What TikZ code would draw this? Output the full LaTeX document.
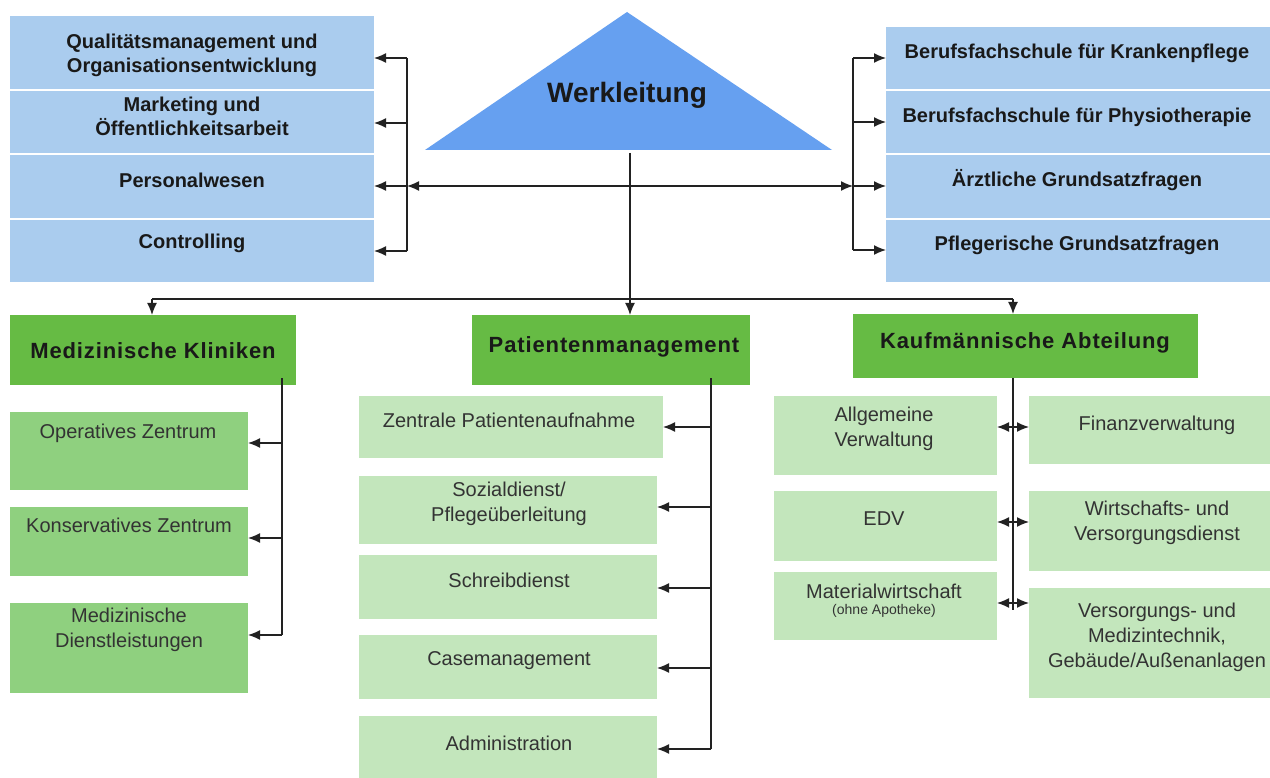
\documentclass[tikz,border=0pt]{standalone}
\usepackage{fontspec}
\setmainfont{Liberation Sans}
\usetikzlibrary{arrows.meta,calc}
\definecolor{tri}{HTML}{66A0F0}
\definecolor{bluebox}{HTML}{AACCEE}
\definecolor{hdr}{HTML}{66BB44}
\definecolor{subA}{HTML}{8FD07F}
\definecolor{subB}{HTML}{C3E6BC}
\definecolor{ln}{HTML}{222222}
\newcommand{\rbx}[6]{\node[fill=#6,draw=none,inner sep=0pt,outer sep=0pt,anchor=north west,
  minimum width={(#4-#2)*1pt},minimum height={(#5-#3)*1pt}] (#1) at (#2,#3) {};}
\tikzset{
  bt/.style={font={\fontsize{20}{24}\selectfont\bfseries},text=black!90,align=center,inner sep=0pt},
  ht/.style={font={\fontsize{22}{26}\selectfont\bfseries\addfontfeature{LetterSpace=4}},text=black!90,align=center,inner sep=0pt},
  st/.style={font={\fontsize{20}{25}\selectfont},text=black!80,align=center,inner sep=0pt},
  lnk/.style={draw=ln,line width=1.4pt},
  arr/.style={lnk,-{Latex[length=12pt,width=10pt]}},
}
\begin{document}
\begin{tikzpicture}[x=1pt,y=-1pt]
\useasboundingbox (0,0) rectangle (1270,778);
\fill[white] (0,0) rectangle (1270,778);
% left blue block
\rbx{qm}{10}{16}{374}{89}{bluebox}
\rbx{mo}{10}{91}{374}{153}{bluebox}
\rbx{pw}{10}{155}{374}{218}{bluebox}
\rbx{co}{10}{220}{374}{282}{bluebox}
\node[bt] (qmt) at (192,55) {Qualitätsmanagement und\\Organisationsentwicklung};
\node[bt] (mot) at (192,116.5) {Marketing und\\Öffentlichkeitsarbeit};
\node[bt] (pwt) at (192,180) {Personalwesen};
\node[bt] (cot) at (192,243) {Controlling};
% right blue block
\rbx{bk}{886}{27}{1270}{89}{bluebox}
\rbx{bp}{886}{91}{1270}{153}{bluebox}
\rbx{ag}{886}{155}{1270}{218}{bluebox}
\rbx{pg}{886}{220}{1270}{282}{bluebox}
\node[bt] (bkt) at (1077,53) {Berufsfachschule für Krankenpflege};
\node[bt] (bpt) at (1077,117) {Berufsfachschule für Physiotherapie};
\node[bt] (agt) at (1077,180) {Ärztliche Grundsatzfragen};
\node[bt] (pgt) at (1077,245) {Pflegerische Grundsatzfragen};
% triangle
\fill[tri] (425,150) -- (627,12) -- (832,150) -- cycle;
\node[font={\fontsize{28}{32}\selectfont\bfseries},text=black!90,inner sep=0pt] (werk) at (627,95) {Werkleitung};
% headers
\rbx{mk}{10}{315}{296}{385}{hdr}
\rbx{pm}{472}{315}{750}{385}{hdr}
\rbx{ka}{853}{314}{1198}{378}{hdr}
\node[ht] (mkt) at (153,351) {Medizinische Kliniken};
\node[ht] (pmt) at (614,347) {Patientenmanagement};
\node[ht] (kat) at (1025,343) {Kaufmännische Abteilung};
% left subs
\rbx{oz}{10}{412}{248}{490}{subA}
\rbx{kz}{10}{507}{248}{576}{subA}
\rbx{md}{10}{603}{248}{693}{subA}
\node[st] (ozt) at (128,433) {Operatives Zentrum};
\node[st] (kzt) at (129,525) {Konservatives Zentrum};
\node[st] (mdt) at (129,629.5) {Medizinische\\Dienstleistungen};
% center subs
\rbx{zp}{359}{396}{663}{458}{subB}
\rbx{sd}{359}{476}{657}{544}{subB}
\rbx{sc}{359}{555}{657}{619}{subB}
\rbx{cm}{359}{635}{657}{699}{subB}
\rbx{ad}{359}{716}{657}{778}{subB}
\node[st] (zpt) at (509,420) {Zentrale Patientenaufnahme};
\node[st] (sdt) at (509,504) {Sozialdienst/\\Pflegeüberleitung};
\node[st] (sct) at (509,580) {Schreibdienst};
\node[st] (cmt) at (509,661) {Casemanagement};
\node[st] (adt) at (509,743) {Administration};
% right subs
\rbx{av}{774}{396}{997}{475}{subB}
\rbx{ed}{774}{491}{997}{561}{subB}
\rbx{mw}{774}{572}{997}{640}{subB}
\rbx{fv}{1029}{396}{1270}{464}{subB}
\rbx{wv}{1029}{491}{1270}{571}{subB}
\rbx{vm}{1029}{588}{1270}{698}{subB}
\node[st] (avt) at (884,428.5) {Allgemeine\\Verwaltung};
\node[st] (edt) at (884,519) {EDV};
\node[st] (mwt) at (884,591) {Materialwirtschaft};
\node[st,font={\fontsize{14}{16}\selectfont}] (mwt2) at (884,611) {(ohne Apotheke)};
\node[st] (fvt) at (1157,425) {Finanzverwaltung};
\node[st] (wvt) at (1157,523) {Wirtschafts- und\\Versorgungsdienst};
\node[st] (vmt) at (1157,637) {Versorgungs- und\\Medizintechnik,\\Gebäude/Außenanlagen};
% coordinates
\coordinate (wlb) at (630,153);
\coordinate (hc) at (630,186);
\coordinate (bus) at (630,299);
\coordinate (busL) at (152,299);
\coordinate (busR) at (1013,299);
\coordinate (lb1) at (407,58);
\coordinate (lb2) at (407,123);
\coordinate (lb3) at (407,186);
\coordinate (lb4) at (407,251);
\coordinate (rb1) at (853,58);
\coordinate (rb2) at (853,122);
\coordinate (rb3) at (853,186);
\coordinate (rb4) at (853,250);
% top connectors
\draw[lnk] (lb1) -- (lb4);
\draw[lnk] (rb1) -- (rb4);
\draw[arr] (lb1) -- (lb1 -| qm.east);
\draw[arr] (lb2) -- (lb2 -| mo.east);
\draw[arr] (lb3) -- (lb3 -| pw.east);
\draw[arr] (lb4) -- (lb4 -| co.east);
\draw[arr] (rb1) -- (rb1 -| bk.west);
\draw[arr] (rb2) -- (rb2 -| bp.west);
\draw[arr] (rb3) -- (rb3 -| ag.west);
\draw[arr] (rb4) -- (rb4 -| pg.west);
\draw[arr] (hc) -- (lb3);
\draw[arr] (hc) -- (rb3);
\draw[lnk] (wlb) -- (bus);
\draw[lnk] (busL) -- (busR);
\draw[arr] (busL) -- (busL |- mk.north);
\draw[arr] (bus) -- (bus |- pm.north);
\draw[arr] (busR) -- (busR |- ka.north);
% left branch
\coordinate (mv0) at (282,378);
\coordinate (m1) at (282,443);
\coordinate (m2) at (282,538);
\coordinate (m3) at (282,635);
\draw[lnk] (mv0) -- (m3);
\draw[arr] (m1) -- (m1 -| oz.east);
\draw[arr] (m2) -- (m2 -| kz.east);
\draw[arr] (m3) -- (m3 -| md.east);
% center branch
\coordinate (pv0) at (711,378);
\coordinate (p1) at (711,427);
\coordinate (p2) at (711,507);
\coordinate (p3) at (711,588);
\coordinate (p4) at (711,668);
\coordinate (p5) at (711,749);
\draw[lnk] (pv0) -- (p5);
\draw[arr] (p1) -- (p1 -| zp.east);
\draw[arr] (p2) -- (p2 -| sd.east);
\draw[arr] (p3) -- (p3 -| sc.east);
\draw[arr] (p4) -- (p4 -| cm.east);
\draw[arr] (p5) -- (p5 -| ad.east);
% right branch
\coordinate (kv0) at (1013,378);
\coordinate (k1) at (1013,427);
\coordinate (k2) at (1013,522);
\coordinate (k3) at (1013,603);
\coordinate (kv1) at (1013,610);
\draw[lnk] (kv0) -- (kv1);
\draw[arr] (k1) -- (k1 -| av.east);
\draw[arr] (k1) -- (k1 -| fv.west);
\draw[arr] (k2) -- (k2 -| ed.east);
\draw[arr] (k2) -- (k2 -| wv.west);
\draw[arr] (k3) -- (k3 -| mw.east);
\draw[arr] (k3) -- (k3 -| vm.west);
\end{tikzpicture}
\end{document}
